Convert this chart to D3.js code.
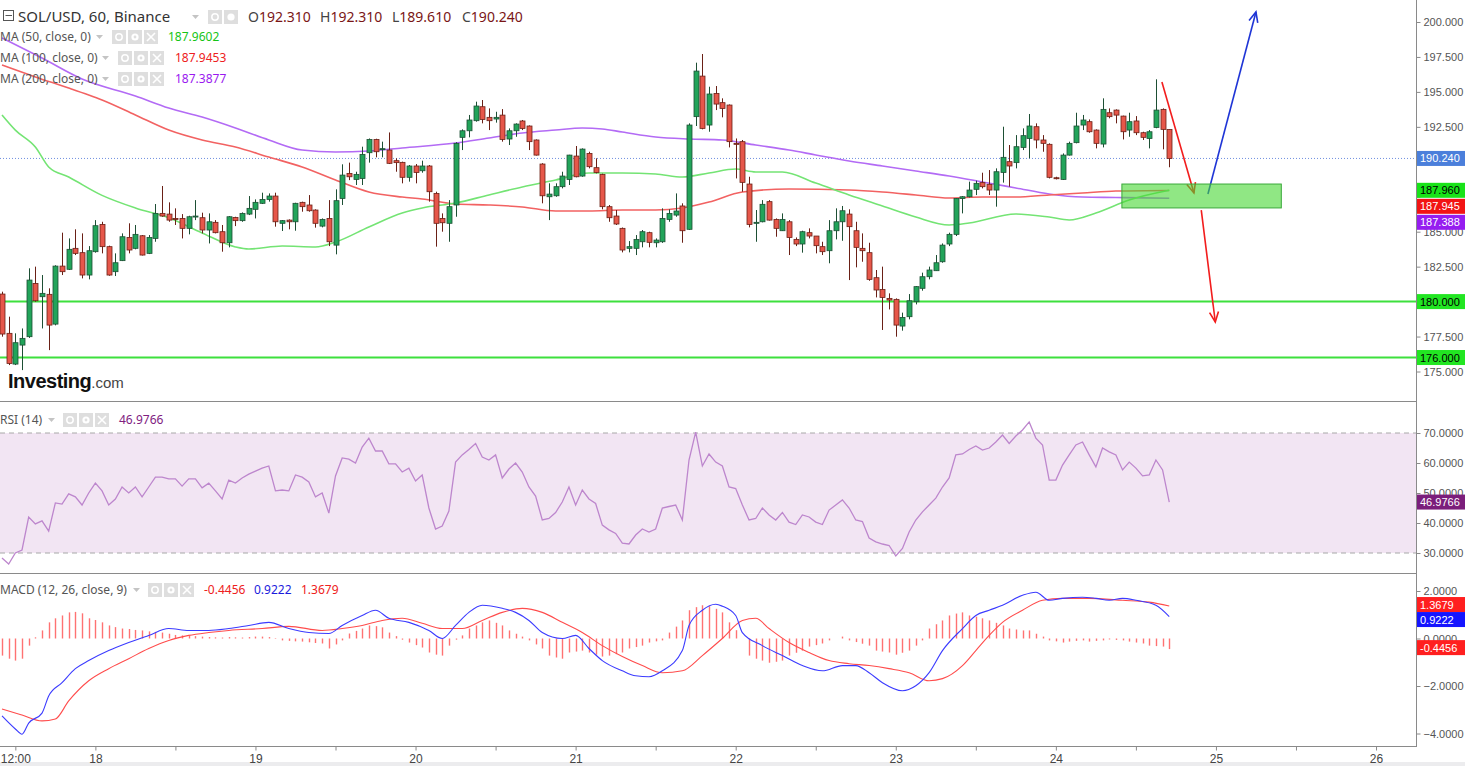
<!DOCTYPE html>
<html><head><meta charset="utf-8">
<script src="https://cdn.jsdelivr.net/npm/d3@7"></script>
<style>
body{margin:0;background:#fff;overflow:hidden}
svg{display:block}
text{font-family:"Noto Sans","Open Sans",sans-serif}
</style>
</head><body>
<svg id="c" width="1465" height="766"></svg>
<script>
// ---------------- DATA ----------------
const opens=[180.54,177.73,175.53,176.89,177.49,181.30,180.35,180.52,178.39,182.54,
182.31,183.81,183.50,181.90,183.57,185.52,183.93,182.14,182.93,184.59,
183.81,184.71,183.45,184.52,186.31,186.26,185.95,185.95,185.24,186.07,
186.00,185.12,185.67,185.00,184.21,186.02,185.79,186.26,186.60,187.03,
187.31,187.55,185.60,185.83,185.71,187.10,186.91,186.55,185.40,185.95,
184.04,187.38,189.17,188.74,188.81,190.65,191.60,190.89,190.84,190.08,
189.96,188.89,189.70,189.36,189.70,187.74,185.95,185.60,186.91,191.75,
192.22,192.94,193.94,193.18,193.06,193.34,191.63,192.22,192.92,192.56,
191.56,189.84,187.50,187.57,188.22,188.74,190.41,188.98,190.60,189.58,
189.10,186.79,186.12,185.24,183.81,183.81,184.28,184.93,184.21,184.28,
185.88,186.19,186.84,185.17,193.23,196.13,192.63,194.89,194.23,194.06,
191.32,191.44,188.41,185.60,185.71,187.15,185.88,185.07,185.71,184.45,
184.12,184.93,184.69,183.93,183.64,185.07,185.71,186.26,185.07,183.81,
183.50,181.71,180.87,180.23,180.16,178.25,178.92,179.99,180.95,181.78,
182.21,182.85,184.12,184.81,187.38,187.50,188.03,188.51,188.39,187.98,
189.24,190.01,189.94,191.03,191.67,192.51,191.56,191.25,188.86,188.74,
190.48,191.37,192.63,192.87,192.27,191.27,193.51,193.70,193.27,192.27,
192.92,192.08,191.67,192.46,193.75,192.31];
const highs=[180.71,178.92,177.73,178.08,182.38,182.50,181.90,180.95,182.60,184.93,
184.52,185.17,184.88,183.97,185.83,185.71,184.00,183.45,184.88,185.60,
185.48,184.76,184.76,186.98,188.27,187.10,186.67,186.26,186.14,187.26,
186.36,186.31,185.83,185.48,186.12,186.07,186.38,187.55,187.31,187.79,
187.74,187.79,185.83,185.88,187.07,187.15,187.62,186.60,185.95,187.26,
188.03,189.82,189.94,189.29,191.08,191.67,191.65,191.44,192.10,190.25,
190.01,189.77,189.84,190.08,189.77,187.86,186.31,187.26,191.40,192.32,
193.35,194.30,194.42,193.82,193.58,193.77,192.39,192.75,192.99,192.60,
191.60,189.90,188.46,188.46,189.29,190.50,191.13,190.96,190.72,190.25,
189.15,186.91,186.55,185.30,184.33,184.76,185.12,185.00,184.52,186.67,
186.60,187.74,187.03,192.75,197.09,197.71,195.37,195.42,194.54,194.10,
191.67,191.56,188.93,186.55,187.26,187.26,185.95,186.31,185.83,184.59,
185.07,185.24,184.69,184.28,185.83,186.67,186.84,186.60,185.71,184.88,
184.21,182.26,182.50,180.59,180.23,179.21,180.54,181.11,182.07,182.50,
183.33,184.16,184.93,187.40,187.55,188.58,188.65,189.22,189.41,189.53,
192.51,191.20,191.91,192.39,193.42,192.75,191.91,191.32,188.93,190.60,
191.44,193.51,193.35,193.03,192.32,194.54,193.82,193.75,193.30,193.51,
193.27,192.15,192.27,195.90,193.82,192.31];
const lows=[177.49,175.46,175.46,175.10,177.40,179.99,178.08,176.53,178.30,181.90,
182.26,183.33,181.66,181.59,183.50,183.45,181.85,181.83,182.90,183.45,
183.74,183.30,183.40,184.28,186.07,185.71,185.48,184.52,184.81,185.83,
184.88,184.16,184.88,183.57,183.88,185.40,185.71,186.19,185.95,186.98,
187.15,185.36,185.05,185.17,185.07,186.43,186.43,185.29,185.31,183.97,
183.38,186.91,188.69,188.34,188.34,189.94,190.32,190.32,189.84,189.29,
188.46,188.58,188.46,189.22,187.15,183.93,185.00,184.28,186.07,190.84,
191.75,192.87,192.75,192.27,192.80,191.44,191.20,191.79,192.27,190.84,
190.45,187.03,185.83,187.50,188.10,188.34,188.89,188.93,189.53,189.17,
186.60,185.71,185.48,183.52,183.52,183.33,183.88,183.88,183.88,184.20,
185.71,186.07,184.21,185.12,192.56,192.32,192.15,193.70,193.18,191.03,
188.81,187.86,185.31,184.28,185.67,185.80,184.64,185.05,183.33,183.97,
183.50,184.52,183.45,183.33,182.74,184.45,184.35,181.54,182.45,182.85,
181.49,180.30,177.97,179.44,177.49,177.92,178.73,179.80,180.78,181.59,
182.20,182.78,183.97,184.69,186.31,187.45,187.62,188.10,187.62,186.79,
188.51,188.22,189.53,190.84,190.25,190.96,190.72,188.81,188.74,188.70,
190.45,191.32,192.27,192.08,190.96,191.03,193.11,192.75,191.60,191.79,
191.91,191.56,190.96,192.40,190.89,189.61];
const closes=[177.68,175.58,177.06,177.37,181.54,180.06,180.59,178.32,182.54,182.14,
183.74,183.45,181.90,183.64,185.43,183.93,181.90,182.78,184.64,183.69,
184.81,183.33,184.59,186.31,186.12,185.83,185.88,185.24,186.07,186.12,
185.12,185.71,184.93,184.21,186.07,185.79,186.31,186.67,187.10,187.31,
187.55,185.71,185.79,185.71,187.03,186.79,186.50,185.60,185.88,184.28,
187.22,189.05,188.93,189.10,190.53,191.60,190.72,190.94,189.89,189.94,
188.89,189.70,189.24,189.70,187.86,185.60,185.64,186.79,191.32,192.22,
192.99,193.99,193.03,192.94,193.18,191.60,192.22,192.70,192.39,191.44,
190.48,187.57,187.69,188.22,188.98,190.48,188.93,190.91,189.65,189.24,
186.79,186.00,185.55,183.69,183.93,184.45,185.00,184.24,184.40,185.95,
186.31,186.48,185.07,192.63,196.49,192.39,194.85,194.13,193.82,191.44,
191.25,188.53,185.52,185.67,186.96,185.83,185.24,185.88,184.59,184.12,
185.00,184.69,184.00,183.57,185.07,185.71,186.50,185.36,183.88,183.64,
181.59,180.83,180.30,180.11,178.32,178.87,180.06,181.07,181.78,182.26,
182.78,184.04,184.81,187.38,187.50,187.98,188.46,188.22,187.98,189.29,
190.32,189.70,191.08,191.87,192.56,191.56,191.32,188.89,188.80,190.48,
191.32,192.56,192.99,192.15,191.32,193.75,193.23,193.34,192.15,192.87,
192.08,191.75,192.15,193.70,192.32,190.24];

// moving averages: [bar index, value]
const ma50=[[0,193.35],[2,192.27],[5,191.06],[7,189.63],[10,188.91],[15,187.6],[20,186.7],[25,186.0],[30,184.91],[35,183.91],[37,183.76],[42,183.98],[47,183.91],[50,184.26],[55,185.34],[60,186.34],[63,186.70],[68,187.05],[73,187.63],[78,188.20],[83,188.70],[88,189.20],[93,189.20],[98,189.13],[102,188.91],[106,189.20],[110,189.48],[113,189.27],[117,189.27],[122,188.48],[127,187.63],[132,186.84],[137,186.05],[142,185.48],[145,185.62],[152,186.27],[157,186.05],[160,185.84],[164,186.34],[169,187.27],[175,187.96]];
const ma100=[[0,196.92],[5,196.07],[10,195.28],[13,194.78],[15,194.42],[20,193.35],[25,192.27],[30,191.56],[35,191.06],[40,190.34],[45,189.63],[50,188.70],[55,187.84],[60,187.48],[63,187.34],[68,186.98],[73,186.91],[78,186.77],[83,186.48],[88,186.48],[93,186.55],[98,186.55],[102,186.70],[106,187.12],[111,187.84],[118,188.05],[127,187.98],[132,187.84],[137,187.63],[142,187.41],[147,187.48],[152,187.48],[157,187.63],[162,187.77],[167,187.91],[175,187.95]];
const ma200=[[0,198.86],[6,197.42],[12,195.92],[20,194.71],[25,193.85],[30,193.20],[35,192.42],[40,191.56],[45,190.84],[50,190.70],[55,190.77],[60,190.99],[68,191.34],[73,191.70],[78,192.06],[83,192.27],[87,192.42],[90,192.35],[93,192.13],[98,191.77],[103,191.63],[108,191.56],[113,191.20],[118,190.84],[122,190.49],[127,190.06],[132,189.70],[137,189.34],[142,188.98],[147,188.56],[152,188.13],[157,187.70],[162,187.48],[167,187.45],[175,187.39]];
const maLegend=[{name:"MA (50, close, 0)",value:"187.9602",last:187.9602},{name:"MA (100, close, 0)",value:"187.9453",last:187.9453},{name:"MA (200, close, 0)",value:"187.3877",last:187.3877}];

const rsi=[28.3,26.3,30,31,42,39.7,40.7,37.3,46.7,46.3,49.7,48.7,46,50,53.3,50.7,46,48,52,50,
52,48.7,52,55.3,55.3,54.7,54.7,52.3,54.7,54.7,51.7,53.3,50.7,48,54.3,53.3,55,56.3,57.3,58.3,
59,50.7,51,50.7,56,55.3,53.7,48.7,50,43.3,55.7,61.7,61.3,60,65.3,68.3,64,64,59.7,59.7,
57,58.3,54,56,45,38,39,44,60.3,62.7,64.5,66.5,62,61,62.7,55,58,60,57,52,
49,41,41.5,43.5,47,52,46,51,48,46.5,39.3,37.7,36.5,33.3,33,36,38,37,38,45,
45.5,46,41,61,70.3,59,63,60.3,59,52,51.5,46,41,41.5,45,42.7,41,43.5,40.3,39.5,
42.7,42,40.3,39.5,44.3,46,47.7,45,41,40.5,35,33.7,33,32.5,29,31.5,37,41,43.7,46,
48.3,52,55,62.7,63,64.5,65.7,64.3,65,67,69.3,66.5,69,71,73.7,68.3,66,54.3,54.3,59.3,
62.7,66,67,62.7,58.7,65,63.7,62.7,57.7,60.3,58.3,55.7,56,61,57.7,46.98];

const macdLine=[[0,-3.26],[2,-3.81],[3,-4.03],[4,-3.56],[6,-3.14],[7,-2.42],[9,-1.86],[11,-1.27],[13,-0.93],[16,-0.51],[19,-0.17],[22,0.13],[25,0.42],[28,0.34],[31,0.34],[34,0.42],[37,0.55],[40,0.68],[43,0.42],[46,0.25],[49,0.21],[51,0.55],[54,0.97],[56,1.19],[58,0.85],[61,0.68],[64,0.34],[66,0],[68,0.55],[70,1.10],[72,1.40],[75,1.27],[77,1.10],[79,0.76],[81,0.25],[84,0],[86,0.13],[88,-0.42],[90,-0.93],[93,-1.36],[95,-1.57],[97,-1.61],[99,-1.36],[102,-0.51],[103,0.55],[105,1.19],[107,1.44],[108,1.36],[110,0.97],[111,0.25],[114,-0.30],[117,-0.72],[120,-1.14],[123,-1.36],[126,-1.14],[128,-1.14],[130,-1.44],[132,-1.86],[135,-2.20],[137,-1.99],[139,-1.44],[141,-0.51],[144,0.42],[146,0.97],[148,1.19],[150,1.40],[153,1.82],[155,1.95],[157,1.61],[159,1.69],[162,1.74],[164,1.69],[166,1.61],[168,1.69],[170,1.61],[173,1.40],[175,0.9222]];
const signalLine=[[0,-2.97],[3,-3.22],[6,-3.47],[8,-3.39],[10,-2.63],[13,-1.78],[16,-1.27],[19,-0.85],[22,-0.42],[25,-0.08],[28,0.13],[31,0.25],[34,0.34],[39,0.42],[43,0.51],[48,0.34],[51,0.42],[54,0.55],[57,0.76],[60,0.85],[63,0.64],[66,0.42],[69,0.42],[72,0.76],[75,1.10],[78,1.27],[81,1.10],[84,0.68],[87,0.25],[90,-0.30],[93,-0.76],[96,-1.14],[99,-1.44],[102,-1.36],[105,-0.72],[108,0],[111,0.76],[113,0.85],[115,0.42],[118,-0.17],[121,-0.59],[124,-0.93],[127,-1.06],[130,-1.14],[133,-1.27],[136,-1.44],[139,-1.78],[141,-1.69],[144,-1.14],[146,-0.51],[148,0.13],[150,0.68],[153,1.19],[156,1.61],[159,1.69],[163,1.69],[168,1.61],[172,1.53],[175,1.3679]];
// histogram, one value per bar
const histogram=[-0.72,-0.85,-0.93,-0.85,-0.30,0.05,0.34,0.68,0.85,0.97,
1.10,1.12,1.06,0.85,0.78,0.68,0.55,0.48,0.42,0.40,
0.36,0.34,0.30,0.28,0.25,0.20,0.15,0.13,0.12,0.10,
0.08,0.06,0.05,0.04,0.06,0.05,0.04,0.06,0.08,0.08,
0.06,-0.02,-0.08,-0.10,-0.12,-0.13,-0.16,-0.19,-0.21,-0.42,
-0.25,-0.08,0.21,0.32,0.42,0.55,0.52,0.47,0.25,0.10,
-0.05,-0.17,-0.28,-0.38,-0.59,-0.68,-0.72,-0.30,-0.05,0.13,
0.42,0.55,0.68,0.76,0.66,0.55,0.34,0.20,0.08,-0.08,
-0.25,-0.42,-0.72,-0.80,-0.85,-0.59,-0.55,-0.51,-0.59,-0.68,
-0.76,-0.72,-0.66,-0.59,-0.42,-0.36,-0.30,-0.17,-0.12,-0.08,
0.25,0.50,0.76,1.19,1.32,1.40,1.36,1.25,1.10,0.68,
0.35,0.00,-0.72,-0.85,-0.93,-1.02,-0.98,-0.93,-0.72,-0.60,
-0.51,-0.34,-0.28,-0.21,-0.08,0.00,0.08,-0.08,-0.15,-0.22,
-0.30,-0.51,-0.55,-0.59,-0.68,-0.60,-0.51,-0.30,-0.08,0.42,
0.60,0.76,0.97,1.05,1.10,0.97,0.92,0.85,0.76,0.66,
0.55,0.42,0.38,0.34,0.34,0.20,0.08,-0.08,-0.12,-0.17,
-0.13,-0.10,-0.08,-0.13,-0.10,-0.08,-0.04,-0.06,-0.08,-0.13,
-0.17,-0.21,-0.30,-0.32,-0.34,-0.4456];
const macdLegend=["-0.4456","0.9222","1.3679"];
const rsiLegend="46.9766";

const priceTicks=[200,197.5,195,192.5,190,187.5,185,182.5,180,177.5,175];
const rsiTicks=[70,60,50,40,30];
const macdTicks=[2,0,-2,-4];
const timeTickIdx=[2,14,26,38,50,62,74,86,98,110,122,134,146,158,170,182,194,206];
const timeTickLabels=["12:00","18","","19","","20","","21","","22","","23","","24","","25","","26"];
const levels=[180,176];
const rsiBand=[30,70];
// annotations in [bar index, price]
const arrowsData=[{from:[173.9,195.71],to:[178.7,187.77]},{from:[180.8,187.70],to:[188.0,200.72]},{from:[179.8,186.55],to:[181.9,178.54]}];
const zone={i0:167.9,i1:191.8,p0:186.70,p1:188.41};
const ohlc=[["O","192.310"],["H","192.310"],["L","189.610"],["C","190.240"]];

// ---------------- LAYOUT ----------------
const AX=1416;
const svg=d3.select("#c");
const x=d3.scaleLinear().domain([0,175]).range([2,1169.25]);
const yP=d3.scaleLinear().domain([175,200]).range([371.5,22]);
const yR=d3.scaleLinear().domain([30,70]).range([553,433]);
const yM=d3.scaleLinear().domain([-4,2]).range([733.5,591]);

const GREEN="#22a45a",GREEN_B="#1d4f34",RED="#e6574a",RED_B="#6a2016";
const defs=svg.append("defs");
function clip(id,y0,y1){defs.append("clipPath").attr("id",id).append("rect").attr("x",0).attr("y",y0).attr("width",AX).attr("height",y1-y0);}
clip("cp",0,401);clip("cr",402,573);clip("cm",574,746);

svg.append("rect").attr("x",0).attr("y",0).attr("width",1465).attr("height",766).attr("fill","#fff");
svg.append("rect").attr("x",0).attr("y",762).attr("width",1465).attr("height",4).attr("fill","#ececee");

// ---------- price pane ----------
const gp=svg.append("g").attr("clip-path","url(#cp)");
gp.append("line").attr("x1",0).attr("x2",AX).attr("y1",yP(closes[175])).attr("y2",yP(closes[175]))
  .attr("stroke","#6f8fe0").attr("stroke-width",1).attr("stroke-dasharray","1,2");
const line=d3.line().x(d=>x(d[0])).y(d=>yP(d[1])).curve(d3.curveMonotoneX);
[[ma200,"#b36bf5"],[ma100,"#f26262"],[ma50,"#74e474"]].forEach(([d,c])=>{
  gp.append("path").datum(d).attr("d",line).attr("fill","none").attr("stroke",c).attr("stroke-width",1.6);
});
levels.forEach(v=>gp.append("line").attr("x1",0).attr("x2",AX).attr("y1",yP(v)).attr("y2",yP(v)).attr("stroke","#3de03d").attr("stroke-width",2));
const bars=d3.range(opens.length).map(i=>({i,o:opens[i],h:highs[i],l:lows[i],c:closes[i]}));
const cg=gp.append("g");
cg.selectAll("line.w").data(bars).join("line").attr("class","w")
  .attr("x1",d=>Math.round(x(d.i))+0.5).attr("x2",d=>Math.round(x(d.i))+0.5)
  .attr("y1",d=>yP(d.h)).attr("y2",d=>yP(d.l))
  .attr("stroke",d=>d.c>=d.o?GREEN_B:RED_B).attr("stroke-width",1);
cg.selectAll("rect.b").data(bars).join("rect").attr("class","b")
  .attr("x",d=>Math.round(x(d.i))-2).attr("width",5)
  .attr("y",d=>yP(Math.max(d.o,d.c))).attr("height",d=>Math.max(1,Math.abs(yP(d.o)-yP(d.c))))
  .attr("fill",d=>d.c>=d.o?GREEN:RED).attr("stroke",d=>d.c>=d.o?GREEN_B:RED_B).attr("stroke-width",0.8);
const arrowColors=["#f21d1d","#1f35d6","#f21d1d"];
arrowsData.forEach((a,k)=>{
  const x1=x(a.from[0]),y1=yP(a.from[1]),x2=x(a.to[0]),y2=yP(a.to[1]);
  gp.append("line").attr("x1",x1).attr("y1",y1).attr("x2",x2).attr("y2",y2).attr("stroke",arrowColors[k]).attr("stroke-width",1.6);
  const ang=Math.atan2(y2-y1,x2-x1),L=11,s=0.42;
  const p1=[x2-L*Math.cos(ang-s),y2-L*Math.sin(ang-s)],p2=[x2-L*Math.cos(ang+s),y2-L*Math.sin(ang+s)];
  gp.append("path").attr("d",`M${p1}L${x2},${y2}L${p2}`).attr("fill","none").attr("stroke",arrowColors[k]).attr("stroke-width",1.6);
});
gp.append("rect").attr("x",x(zone.i0)).attr("y",yP(zone.p1)).attr("width",x(zone.i1)-x(zone.i0)).attr("height",yP(zone.p0)-yP(zone.p1))
  .attr("fill","rgba(70,215,50,0.6)").attr("stroke","#3aa83a").attr("stroke-width",1);

// ---------- RSI pane ----------
const gr=svg.append("g").attr("clip-path","url(#cr)");
gr.append("rect").attr("x",0).attr("width",AX).attr("y",yR(rsiBand[1])).attr("height",yR(rsiBand[0])-yR(rsiBand[1])).attr("fill","#f2e5f3");
rsiBand.forEach(v=>gr.append("line").attr("x1",0).attr("x2",AX).attr("y1",yR(v)).attr("y2",yR(v)).attr("stroke","#a8a8a8").attr("stroke-dasharray","5,4"));
gr.append("path").datum(rsi).attr("d",d3.line().x((d,i)=>x(i)).y(d=>yR(d))).attr("fill","none").attr("stroke","#bd86cd").attr("stroke-width",1.3);

// ---------- MACD pane ----------
const gm=svg.append("g").attr("clip-path","url(#cm)");
gm.selectAll("line.h").data(histogram).join("line").attr("class","h")
  .attr("x1",(d,i)=>Math.round(x(i))+0.5).attr("x2",(d,i)=>Math.round(x(i))+0.5).attr("y1",yM(0)).attr("y2",d=>yM(d))
  .attr("stroke","#ff7272").attr("stroke-width",1.4);
const lm=d3.line().x(d=>x(d[0])).y(d=>yM(d[1])).curve(d3.curveMonotoneX);
gm.append("path").datum(signalLine).attr("d",lm).attr("fill","none").attr("stroke","#ff4c4c").attr("stroke-width",1.1);
gm.append("path").datum(macdLine).attr("d",lm).attr("fill","none").attr("stroke","#3b3bff").attr("stroke-width",1.1);

// ---------- separators & axes ----------
[401.5,573.5,746.5].forEach(y=>svg.append("line").attr("x1",0).attr("x2",AX).attr("y1",y).attr("y2",y).attr("stroke","#8a8a8a").attr("stroke-width",1));
svg.append("line").attr("x1",AX+0.5).attr("x2",AX+0.5).attr("y1",0).attr("y2",747).attr("stroke","#8a8a8a");

// value labels (positions resolved first so hidden tick texts can be skipped)
function resolve(items,gap,centered){
  items.sort((a,b)=>a.y-b.y);
  const orig=items.map(d=>d.y);
  for(let k=1;k<items.length;k++) if(items[k].y-items[k-1].y<gap) items[k].y=items[k-1].y+gap;
  if(centered){const sh=(d3.mean(orig)-d3.mean(items,d=>d.y));items.forEach(d=>d.y+=sh);}
  return items;
}
const priceLabels=[].concat(
  resolve([{y:yP(closes[175]),t:d3.format(".3f")(closes[175]),bg:"#4b7fdb",fg:"#fff"}],15),
  resolve([{y:yP(maLegend[0].last),t:d3.format(".3f")(maLegend[0].last),bg:"#19e319",fg:"#000"},
           {y:yP(maLegend[1].last),t:d3.format(".3f")(maLegend[1].last),bg:"#f21414",fg:"#fff"},
           {y:yP(maLegend[2].last),t:d3.format(".3f")(maLegend[2].last),bg:"#961df0",fg:"#fff"}],16,false),
  levels.map(v=>({y:yP(v),t:d3.format(".3f")(v),bg:"#22e622",fg:"#000"})));
const rsiLabels=[{y:yR(rsi[rsi.length-1]),t:rsiLegend,bg:"#7b1e7b",fg:"#fff"}];
const macdLabels=resolve([{y:yM(+macdLegend[2]),t:macdLegend[2],bg:"#ff1f1f",fg:"#fff"},
        {y:yM(+macdLegend[1]),t:macdLegend[1],bg:"#1515ff",fg:"#fff"},
        {y:yM(+macdLegend[0]),t:macdLegend[0],bg:"#ff1f1f",fg:"#fff"}],15,true);

function rightAxis(scale,ticks,fmt,lbls){
  const g=svg.append("g").attr("transform",`translate(${AX+0.5},0)`)
    .call(d3.axisRight(scale).tickValues(ticks).tickFormat(fmt).tickSize(4).tickPadding(3));
  g.select(".domain").remove();
  g.selectAll("line").attr("stroke","#8a8a8a");
  g.selectAll(".tick").filter(d=>lbls.some(l=>Math.abs(l.y-scale(d))<8.5)).select("text").remove();
  g.selectAll("text").attr("fill","#555").style("font-family","Liberation Sans, Arial, sans-serif").style("font-size","11px");
}
rightAxis(yP,priceTicks,d3.format(".3f"),priceLabels);
rightAxis(yR,rsiTicks,d3.format(".4f"),rsiLabels);
rightAxis(yM,macdTicks,d3.format(".4f"),macdLabels);

function drawLabels(items){
  items.forEach(it=>{
    svg.append("rect").attr("x",AX+1).attr("y",it.y-7.5).attr("width",48).attr("height",15).attr("fill",it.bg);
    svg.append("text").attr("x",AX+4).attr("y",it.y+4).text(it.t).attr("fill",it.fg)
      .style("font-family","Liberation Sans, Arial, sans-serif").style("font-size","11px");
  });
}
drawLabels(priceLabels);drawLabels(rsiLabels);drawLabels(macdLabels);

const tg=svg.append("g").attr("transform","translate(0,746.5)")
  .call(d3.axisBottom(x).tickValues(timeTickIdx).tickFormat((d,i)=>timeTickLabels[i]).tickSize(4).tickPadding(4));
tg.select(".domain").remove();
tg.selectAll("line").attr("stroke","#8a8a8a");
tg.selectAll("text").attr("fill","#444").style("font-family","Liberation Sans Narrow, Liberation Sans, sans-serif").style("font-size","12px");

// ---------- legends ----------
function caret(g,xx,yy){g.append("path").attr("d",`M${xx},${yy-2}L${xx+7},${yy-2}L${xx+3.5},${yy+2}Z`).attr("fill","#c4c4c4");}
function icons(g,xx,yy,n){
  for(let k=0;k<n;k++){
    const bx=xx+k*16;
    g.append("rect").attr("x",bx).attr("y",yy-7).attr("width",14).attr("height",14).attr("fill","#dedede");
    const cx=bx+7;
    if(k===0){g.append("circle").attr("cx",cx).attr("cy",yy).attr("r",3.2).attr("fill","none").attr("stroke","#fff").attr("stroke-width",1.5);}
    else if(k===1){g.append("circle").attr("cx",cx).attr("cy",yy).attr("r",3.6).attr("fill","#fff");g.append("circle").attr("cx",cx).attr("cy",yy).attr("r",1.4).attr("fill","#dedede");}
    else {g.append("path").attr("d",`M${cx-4},${yy-4}L${cx+4},${yy+4}M${cx+4},${yy-4}L${cx-4},${yy+4}`).attr("stroke","#fff").attr("stroke-width",1.6);}
  }
}
const lg=svg.append("g");
lg.append("rect").attr("x",3.5).attr("y",10.5).attr("width",10).attr("height",10).attr("fill","none").attr("stroke","#555");
lg.append("line").attr("x1",5.5).attr("x2",12).attr("y1",15.5).attr("y2",15.5).attr("stroke","#555");
lg.append("text").attr("x",18).attr("y",22).text("SOL/USD, 60, Binance").attr("fill","#333").style("font-size","15px");
caret(lg,192,17);
lg.append("rect").attr("x",208).attr("y",10).attr("width",14).attr("height",14).attr("fill","#dedede");
lg.append("circle").attr("cx",215).attr("cy",17).attr("r",3.2).attr("fill","none").attr("stroke","#fff").attr("stroke-width",1.5);
lg.append("rect").attr("x",224).attr("y",10).attr("width",14).attr("height",14).attr("fill","#dedede");
lg.append("circle").attr("cx",231).attr("cy",17).attr("r",3.6).attr("fill","#fff");
const ohlcX=[248,320,392,462];
ohlc.forEach((o,k)=>{
  const t=lg.append("text").attr("x",ohlcX[k]).attr("y",22).style("font-size","14px");
  t.append("tspan").text(o[0]).attr("fill","#444");
  t.append("tspan").text(o[1]).attr("fill","#7a1616");
});
const maColors=["#16c416","#ee2020","#9a19f0"];
const maIconX=[112,118,118], maValX=[168,175,175], maY=[37,58,79];
maLegend.forEach((m,k)=>{
  lg.append("text").attr("x",0).attr("y",maY[k]+4).text(m.name).attr("fill","#555").style("font-size","12px");
  caret(lg,maIconX[k]-16,maY[k]);
  icons(lg,maIconX[k],maY[k],3);
  lg.append("text").attr("x",maValX[k]).attr("y",maY[k]+4).text(m.value).attr("fill",maColors[k]).style("font-size","12px");
});
lg.append("text").attr("x",0).attr("y",424).text("RSI (14)").attr("fill","#555").style("font-size","12px");
caret(lg,48,420);icons(lg,63,420,3);
lg.append("text").attr("x",119).attr("y",424).text(rsiLegend).attr("fill","#80207f").style("font-size","12px");
lg.append("text").attr("x",0).attr("y",594).text("MACD (12, 26, close, 9)").attr("fill","#555").style("font-size","12px");
caret(lg,133,590);icons(lg,148,590,3);
const macdLegX=[204,254,301],macdLegC=["#ee2020","#1c1cdc","#ee2020"];
macdLegend.forEach((v,k)=>lg.append("text").attr("x",macdLegX[k]).attr("y",594).text(v).attr("fill",macdLegC[k]).style("font-size","12px"));

const wm=lg.append("text").attr("x",8).attr("y",388);
wm.append("tspan").text("Investing").attr("fill","#111").style("font-size","20px").style("font-weight","bold").style("font-family","Liberation Sans, Arial, sans-serif").attr("letter-spacing","-0.5");
wm.append("tspan").text(".com").attr("fill","#444").style("font-size","15px").style("font-family","Liberation Sans, Arial, sans-serif");
</script>
</body></html>
